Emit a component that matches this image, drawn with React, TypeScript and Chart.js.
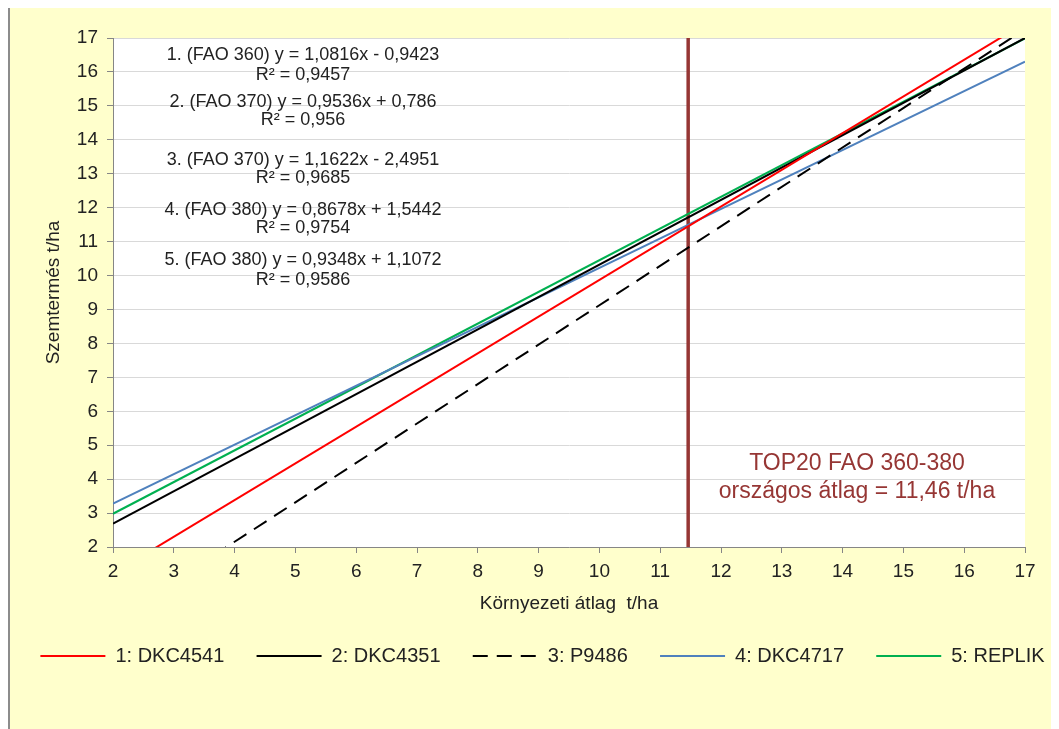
import React, { useEffect, useRef } from 'react';
import { Chart, registerables } from 'chart.js';

Chart.register(...registerables);

// ---- data ----
const xEnds = [2, 17];
const seriesNames = ['1: DKC4541', '2: DKC4351', '3: P9486', '4: DKC4717', '5: REPLIK'];
const dkc4541 = [1.22, 17.44];
const dkc4351 = [2.69, 17.0];
const p9486 = [-0.17, 17.26];
const dkc4717 = [3.28, 16.3];
const replik = [2.98, 16.99];
const avgX = [11.46, 11.46];
const avgY = [2, 17];
const equations = [
  '1. (FAO 360) y = 1,0816x - 0,9423',
  'R² = 0,9457',
  '2. (FAO 370) y = 0,9536x + 0,786',
  'R² = 0,956',
  '3. (FAO 370) y = 1,1622x - 2,4951',
  'R² = 0,9685',
  '4. (FAO 380) y = 0,8678x + 1,5442',
  'R² = 0,9754',
  '5. (FAO 380) y = 0,9348x + 1,1072',
  'R² = 0,9586',
];
const avgLabel = ['TOP20 FAO 360-380', 'országos átlag = 11,46 t/ha'];
const xTitle = 'Környezeti átlag  t/ha';
const yTitle = 'Szemtermés t/ha';

const FONT = '"Liberation Sans", Arial, sans-serif';
const TEXT = '#222222';
const AVG_COLOR = '#963634';

const toPts = (xs: number[], ys: number[]) => xs.map((x, i) => ({ x, y: ys[i] }));

const annotPlugin = {
  id: 'annot',
  beforeDraw(chart: any) {
    const { ctx, chartArea } = chart;
    ctx.save();
    ctx.fillStyle = '#ffffff';
    ctx.fillRect(chartArea.left, chartArea.top, chartArea.right - chartArea.left, chartArea.bottom - chartArea.top);
    ctx.restore();
  },
  afterDatasetsDraw(chart: any) {
    const { ctx, chartArea } = chart;
    ctx.save();
    ctx.textAlign = 'center';
    ctx.textBaseline = 'middle';
    ctx.fillStyle = TEXT;
    ctx.font = `18px ${FONT}`;
    const eqY = [17, 37, 64, 82, 122, 140, 172, 190, 222, 242];
    equations.forEach((t, i) => {
      ctx.fillText(t, chartArea.left + 190, chartArea.top + eqY[i]);
    });
    ctx.fillStyle = AVG_COLOR;
    ctx.font = `23px ${FONT}`;
    ctx.fillText(avgLabel[0], chartArea.left + 744, chartArea.top + 426);
    ctx.fillText(avgLabel[1], chartArea.left + 744, chartArea.top + 454);
    ctx.restore();
  },
};

export default function App() {
  const ref = useRef<HTMLCanvasElement>(null);
  useEffect(() => {
    if (!ref.current) return;
    const colors = ['#FF0000', '#000000', '#000000', '#4F81BD', '#00B050'];
    const ys = [dkc4541, dkc4351, p9486, dkc4717, replik];
    const datasets: any[] = ys.map((y, i) => ({
      label: seriesNames[i],
      data: toPts(xEnds, y),
      borderColor: colors[i],
      backgroundColor: colors[i],
      borderWidth: 2,
      borderDash: i === 2 ? [15, 9] : [],
      pointRadius: 0,
      fill: false,
      tension: 0,
    }));
    datasets.push({
      label: 'avg',
      data: toPts(avgX, avgY),
      borderColor: AVG_COLOR,
      backgroundColor: AVG_COLOR,
      borderWidth: 3.5,
      pointRadius: 0,
      fill: false,
    });
    const defaultGen = (Chart as any).defaults.plugins.legend.labels.generateLabels;
    const chart = new Chart(ref.current, {
      type: 'line',
      data: { datasets },
      plugins: [annotPlugin],
      options: {
        animation: false,
        responsive: false,
        maintainAspectRatio: false,
        layout: { padding: { left: 16, right: 0, top: 31, bottom: 53 } },
        plugins: {
          tooltip: { enabled: false },
          legend: {
            position: 'bottom',
            labels: {
              usePointStyle: true,
              pointStyle: 'line',
              pointStyleWidth: 65,
              padding: 10,
              color: TEXT,
              font: { family: FONT, size: 20 },
              generateLabels: (c: any) =>
                defaultGen(c)
                  .filter((it: any) => it.datasetIndex < 5)
                  .map((it: any) => ({
                    ...it,
                    lineDash: c.data.datasets[it.datasetIndex].borderDash,
                    text: it.datasetIndex < 4 ? it.text + '    ' : it.text,
                  })),
            },
          },
        },
        scales: {
          x: {
            type: 'linear',
            min: 2,
            max: 17,
            afterFit: (s: any) => { s.height = 89; },
            ticks: { stepSize: 1, color: TEXT, font: { family: FONT, size: 19 }, padding: 7, maxRotation: 0 },
            grid: { drawOnChartArea: false, drawTicks: true, tickLength: 6, tickColor: '#868686' },
            border: { color: '#868686', width: 1 },
            title: {
              display: true,
              text: xTitle,
              color: TEXT,
              font: { family: FONT, size: 19, lineHeight: 1 },
              padding: { top: 0, bottom: 22.5 },
            },
          },
          y: {
            type: 'linear',
            min: 2,
            max: 17,
            afterFit: (s: any) => { s.width = 87; },
            ticks: { stepSize: 1, color: TEXT, font: { family: FONT, size: 19 }, padding: 9 },
            grid: { color: '#D9D9D9', tickLength: 6, tickColor: '#868686' },
            border: { color: '#868686', width: 1 },
            title: {
              display: true,
              text: yTitle,
              color: TEXT,
              font: { family: FONT, size: 19 },
              padding: { top: 16, bottom: 0 },
            },
          },
          yRight: {
            type: 'linear',
            position: 'right',
            display: true,
            afterFit: (s: any) => { s.width = 34; },
            ticks: { display: false },
            grid: { display: false, drawTicks: false },
            border: { display: false },
          },
        },
      },
    } as any);
    return () => chart.destroy();
  }, []);

  return (
    <div
      style={{
        position: 'relative',
        top: -3,
        width: 1051,
        height: 724,
        boxSizing: 'border-box',
        borderTop: '2px solid #8c8c8c',
        borderLeft: '2px solid #8c8c8c',
        background: '#FFFFCC',
        overflow: 'hidden',
      }}
    >
      <canvas ref={ref} width={1049} height={722} style={{ display: 'block' }} />
    </div>
  );
}
